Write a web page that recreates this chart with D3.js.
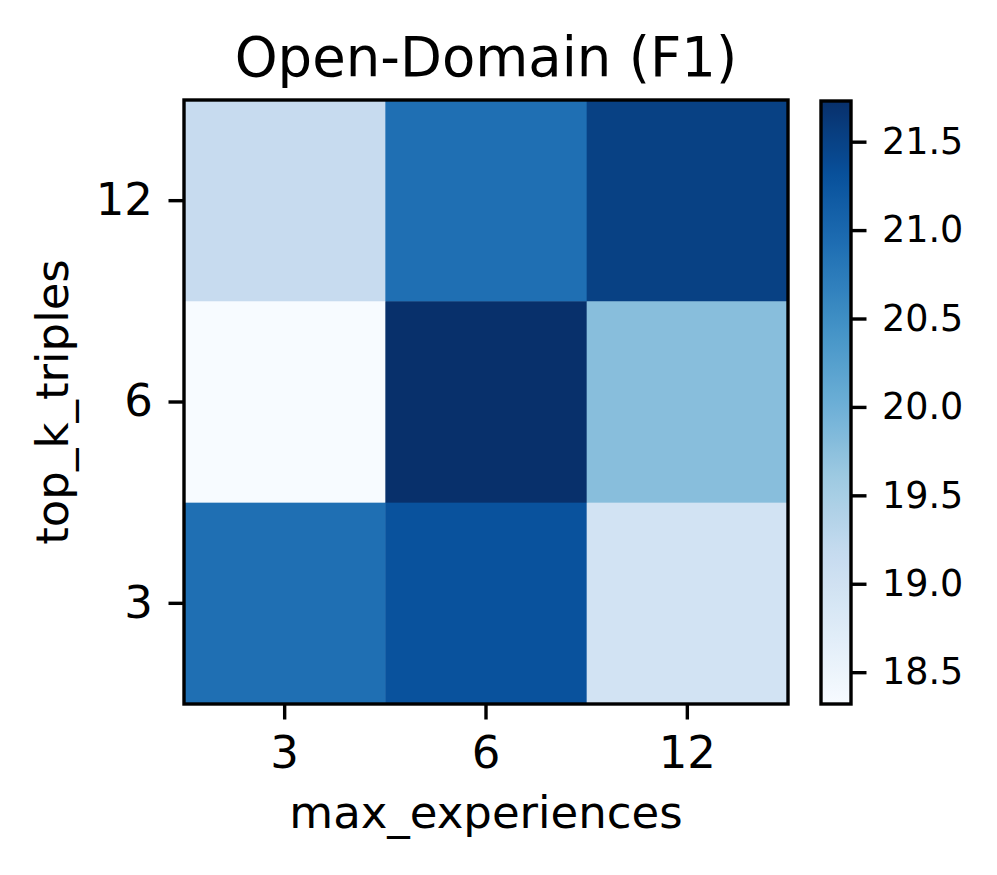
<!DOCTYPE html>
<html>
<head>
<meta charset="utf-8">
<script src="https://cdn.jsdelivr.net/npm/d3@7"></script>
<style>
  html, body { margin: 0; padding: 0; background: #fff; }
  svg { display: block; }
  text { font-family: "DejaVu Sans", sans-serif; fill: #000; }
</style>
</head>
<body>
<svg id="chart" width="997" height="875"></svg>
<script>
// ---- data ----
const title = "Open-Domain (F1)";
const xLabel = "max_experiences";
const yLabel = "top_k_triples";
const xCategories = ["3", "6", "12"];          // max_experiences
const yCategories = ["12", "6", "3"];          // top_k_triples, top to bottom
const row12 = [19.16, 20.91, 21.51];
const row6  = [18.32, 21.73, 19.78];
const row3  = [20.91, 21.29, 18.96];
const colorbarTicks = [18.5, 19.0, 19.5, 20.0, 20.5, 21.0, 21.5];
const bluesStops = ["#f7fbff", "#deebf7", "#c6dbef", "#9ecae1", "#6baed6", "#4292c6", "#2171b5", "#08519c", "#08306b"];

const rows = { "12": row12, "6": row6, "3": row3 };
const cells = [];
yCategories.forEach(yc => xCategories.forEach((xc, i) => cells.push({ x: xc, y: yc, v: rows[yc][i] })));

// ---- layout ----
const svg = d3.select("#chart");
const plot = { left: 184, right: 788, top: 100, bottom: 704 };
const cb = { left: 821, right: 851, top: 101, bottom: 704 };
const tickLen = 15.5, tickPad = 15.5, lw = 3.4;
const tickFont = 45, labelFont = 45, titleFont = 54.5, cbFont = 36.5;

const x = d3.scaleBand().domain(xCategories).range([plot.left, plot.right]);
const y = d3.scaleBand().domain(yCategories).range([plot.top, plot.bottom]);

const vmin = d3.min(cells, d => d.v), vmax = d3.max(cells, d => d.v);
const stopScale = d3.scaleLinear().domain([0, bluesStops.length - 1]).range([0, 1]);
const cmap = d3.scaleLinear()
  .domain(bluesStops.map((_, i) => stopScale(i)))
  .range(bluesStops)
  .interpolate(d3.interpolateRgb)
  .clamp(true);
const norm = d3.scaleLinear().domain([vmin, vmax]).range([0, 1]);
const color = v => cmap(norm(v));

// cells
svg.append("g").selectAll("rect").data(cells).join("rect")
  .attr("x", d => x(d.x)).attr("y", d => y(d.y))
  .attr("width", x.bandwidth() + 0.5).attr("height", y.bandwidth() + 0.5)
  .attr("fill", d => color(d.v));

// frame
svg.append("rect")
  .attr("x", plot.left).attr("y", plot.top)
  .attr("width", plot.right - plot.left).attr("height", plot.bottom - plot.top)
  .attr("fill", "none").attr("stroke", "#000").attr("stroke-width", lw);

// x axis
const xAxis = d3.axisBottom(x).tickSize(tickLen).tickPadding(tickPad).tickSizeOuter(0);
const gx = svg.append("g").attr("transform", `translate(0,${plot.bottom})`).call(xAxis);
gx.select(".domain").remove();
gx.selectAll(".tick line").attr("stroke", "#000").attr("stroke-width", lw);
gx.selectAll(".tick text").attr("font-size", tickFont).attr("font-family", "DejaVu Sans")
  .attr("fill", "#000").attr("dy", "0.74em");

// y axis
const yAxis = d3.axisLeft(y).tickSize(tickLen).tickPadding(tickPad).tickSizeOuter(0);
const gy = svg.append("g").attr("transform", `translate(${plot.left},0)`).call(yAxis);
gy.select(".domain").remove();
gy.selectAll(".tick line").attr("stroke", "#000").attr("stroke-width", lw);
gy.selectAll(".tick text").attr("font-size", tickFont).attr("font-family", "DejaVu Sans").attr("fill", "#000");

// title and labels
svg.append("text").attr("x", (plot.left + plot.right) / 2).attr("y", 76)
  .attr("text-anchor", "middle").attr("font-size", titleFont).text(title);
svg.append("text").attr("x", (plot.left + plot.right) / 2).attr("y", 828)
  .attr("text-anchor", "middle").attr("font-size", labelFont).text(xLabel);
svg.append("text").attr("transform", `translate(68,${(plot.top + plot.bottom) / 2}) rotate(-90)`)
  .attr("text-anchor", "middle").attr("font-size", labelFont).text(yLabel);

// colorbar
const defs = svg.append("defs");
const grad = defs.append("linearGradient").attr("id", "cbgrad")
  .attr("x1", 0).attr("y1", 1).attr("x2", 0).attr("y2", 0);
d3.range(0, 1.0001, 0.02).forEach(t => {
  grad.append("stop").attr("offset", t).attr("stop-color", cmap(t));
});
svg.append("rect").attr("x", cb.left).attr("y", cb.top)
  .attr("width", cb.right - cb.left).attr("height", cb.bottom - cb.top)
  .attr("fill", "url(#cbgrad)").attr("stroke", "#000").attr("stroke-width", lw);

const cbScale = d3.scaleLinear().domain([vmin, vmax]).range([cb.bottom, cb.top]);
const cbAxis = d3.axisRight(cbScale).tickValues(colorbarTicks).tickFormat(d3.format(".1f"))
  .tickSize(tickLen).tickPadding(tickPad).tickSizeOuter(0);
const gc = svg.append("g").attr("transform", `translate(${cb.right},0)`).call(cbAxis);
gc.select(".domain").remove();
gc.selectAll(".tick line").attr("stroke", "#000").attr("stroke-width", lw);
gc.selectAll(".tick text").attr("font-size", cbFont).attr("font-family", "DejaVu Sans").attr("fill", "#000");
</script>
</body>
</html>
